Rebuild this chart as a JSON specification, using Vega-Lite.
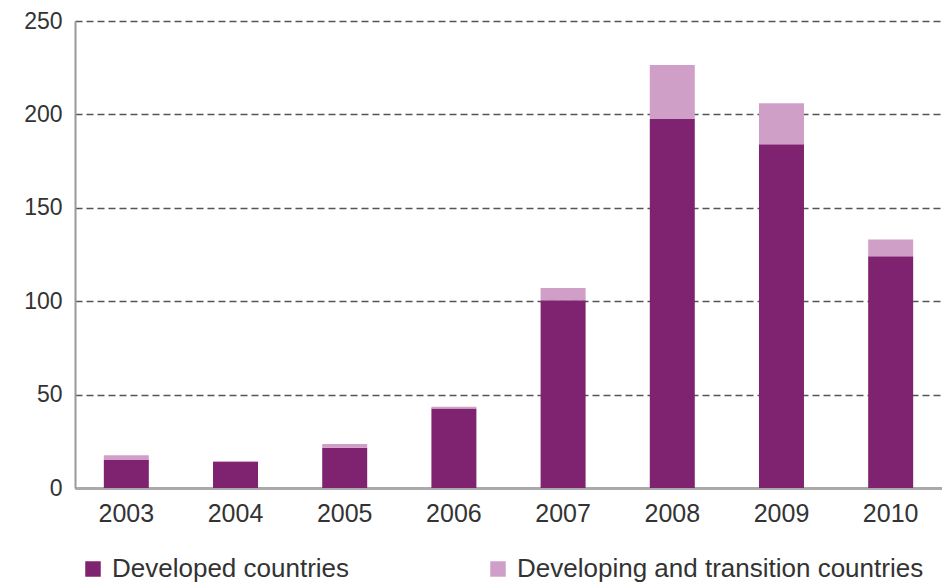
{
  "$schema": "https://vega.github.io/schema/vega-lite/v6.json",
  "autosize": {"type": "none"},
  "padding": {"left": 75, "top": 21, "right": 0, "bottom": 95},
  "width": 867,
  "height": 467,
  "background": "white",
  "data": {
    "values": [
      {"year": "2003", "group": "Developed countries", "value": 15},
      {"year": "2003", "group": "Developing and transition countries", "value": 2.5},
      {"year": "2004", "group": "Developed countries", "value": 14},
      {"year": "2004", "group": "Developing and transition countries", "value": 0.5},
      {"year": "2005", "group": "Developed countries", "value": 21.5},
      {"year": "2005", "group": "Developing and transition countries", "value": 2},
      {"year": "2006", "group": "Developed countries", "value": 42.5},
      {"year": "2006", "group": "Developing and transition countries", "value": 1},
      {"year": "2007", "group": "Developed countries", "value": 100.5},
      {"year": "2007", "group": "Developing and transition countries", "value": 6.5},
      {"year": "2008", "group": "Developed countries", "value": 197.5},
      {"year": "2008", "group": "Developing and transition countries", "value": 29},
      {"year": "2009", "group": "Developed countries", "value": 184},
      {"year": "2009", "group": "Developing and transition countries", "value": 22},
      {"year": "2010", "group": "Developed countries", "value": 124},
      {"year": "2010", "group": "Developing and transition countries", "value": 9}
    ]
  },
  "config": {
    "view": {"stroke": null},
    "font": "Liberation Sans"
  },
  "mark": {"type": "bar"},
  "encoding": {
    "x": {
      "field": "year",
      "type": "ordinal",
      "scale": {"paddingInner": 0.588, "paddingOuter": 0.264},
      "axis": {
        "title": null,
        "labelAngle": 0,
        "labelFontSize": 25,
        "labelColor": "#333333",
        "labelPadding": 13,
        "ticks": false,
        "domainColor": "#aaaaaa",
        "domainWidth": 3,
        "grid": false
      }
    },
    "y": {
      "field": "value",
      "type": "quantitative",
      "stack": "zero",
      "scale": {"domain": [0, 250], "nice": false},
      "axis": {
        "title": null,
        "values": [0, 50, 100, 150, 200, 250],
        "labelFontSize": 23,
        "labelColor": "#333333",
        "labelPadding": 13,
        "ticks": false,
        "domainColor": "#999999",
        "domainWidth": 2,
        "grid": true,
        "gridColor": "#555555",
        "gridWidth": 1.5,
        "gridDash": [7, 4]
      }
    },
    "color": {
      "field": "group",
      "type": "nominal",
      "scale": {
        "domain": ["Developed countries", "Developing and transition countries"],
        "range": ["#7f226f", "#d09fc8"]
      },
      "legend": {
        "title": null,
        "orient": "none",
        "legendX": 5,
        "legendY": 535,
        "direction": "horizontal",
        "columns": 2,
        "columnPadding": 135,
        "symbolType": "square",
        "symbolSize": 240,
        "symbolStrokeWidth": 0,
        "labelFontSize": 26,
        "labelColor": "#333333",
        "labelOffset": 6,
        "labelLimit": 500
      }
    },
    "order": {"field": "group", "sort": "ascending"}
  }
}
